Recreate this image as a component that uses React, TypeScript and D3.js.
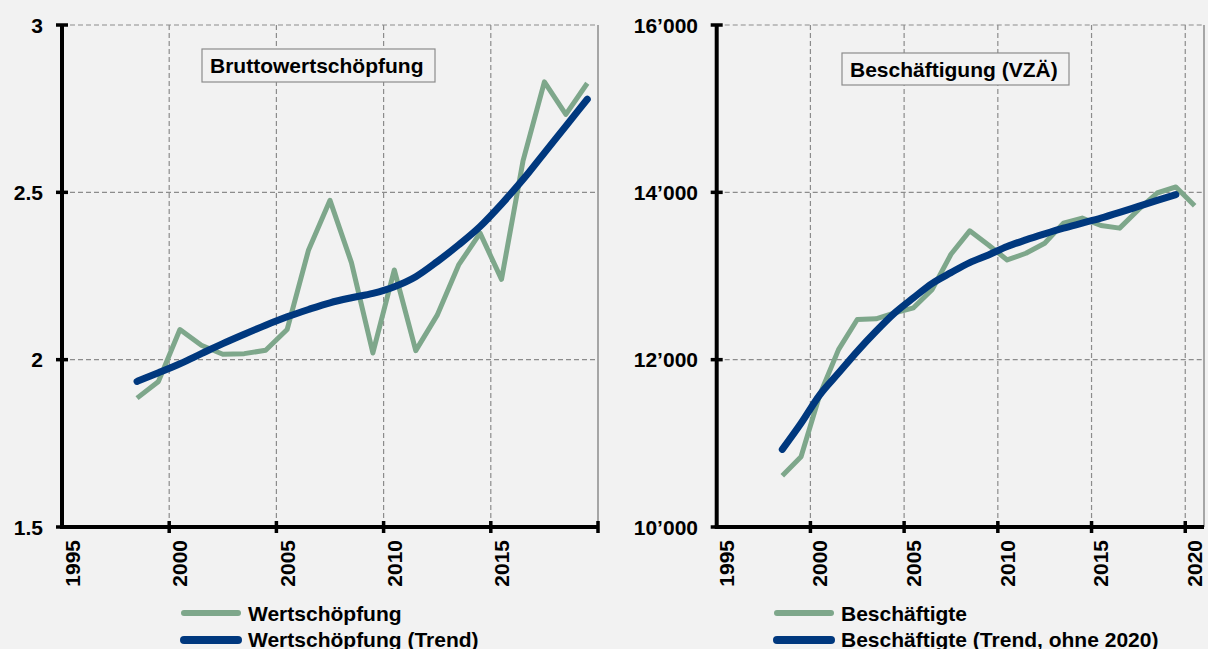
import React from "react";
import * as d3 from "d3";

const years = d3.range(1998, 2021);
const wsYears = years.slice(0, 22);
const wertschoepfung = [1.885, 1.935, 2.09, 2.043, 2.016, 2.018, 2.028, 2.09, 2.328, 2.476, 2.29, 2.02, 2.268, 2.027, 2.133, 2.283, 2.378, 2.24, 2.593, 2.83, 2.733, 2.826];
const wertschoepfungTrend = [1.935, 1.961, 1.988, 2.018, 2.048, 2.076, 2.103, 2.128, 2.15, 2.17, 2.185, 2.198, 2.218, 2.248, 2.293, 2.343, 2.398, 2.465, 2.538, 2.618, 2.698, 2.778];
const beschaeftigte = [10612, 10840, 11580, 12120, 12480, 12488, 12560, 12620, 12840, 13260, 13540, 13370, 13192, 13272, 13392, 13632, 13692, 13604, 13572, 13792, 13992, 14064, 13840];
const beschaeftigteTrend = [10928, 11240, 11580, 11840, 12100, 12340, 12560, 12740, 12912, 13040, 13160, 13252, 13352, 13432, 13504, 13572, 13632, 13692, 13760, 13832, 13904, 13972];

const leftYTicks = [1.5, 2, 2.5, 3];
const leftYLabels = ["1.5", "2", "2.5", "3"];
const rightYTicks = [10000, 12000, 14000, 16000];
const rightYLabels = ["10\u2019000", "12\u2019000", "14\u2019000", "16\u2019000"];
const leftXTicks = [1995, 2000, 2005, 2010, 2015];
const rightXTicks = [1995, 2000, 2005, 2010, 2015, 2020];

const GREEN = "#7ea78b";
const BLUE = "#00387e";
const BG = "#f2f2f2";
const FONT = "'Liberation Sans', Arial, sans-serif";
const FS = 21;

type PanelProps = {
  x0: number; x1: number; xDomain: [number, number];
  yDomain: [number, number]; yTicks: number[]; yLabels: string[];
  xTicks: number[]; gridX: number[]; labelRight: number;
  actYears: number[]; actual: number[]; trend: number[];
  title: string; titleBox: [number, number, number, number];
  legend: [string, string]; legendX: number;
};

function Panel(p: PanelProps) {
  const x = d3.scaleLinear().domain(p.xDomain).range([p.x0, p.x1]);
  const y = d3.scaleLinear().domain(p.yDomain).range([527, 25]);
  const lineLin = d3.line<[number, number]>().x(d => x(d[0] + 0.5)).y(d => y(d[1]));
  const lineSmooth = d3.line<[number, number]>().x(d => x(d[0] + 0.5)).y(d => y(d[1])).curve(d3.curveMonotoneX);
  const actPts = p.actYears.map((yr, i) => [yr, p.actual[i]] as [number, number]);
  const trPts = p.trend.map((v, i) => [p.actYears[i], v] as [number, number]);
  const [bx, by, bw, bh] = p.titleBox;
  const xTickPos = p.gridX.concat(p.xDomain[1] <= 2020 ? [p.xDomain[1]] : []);
  return (
    <g>
      {p.gridX.map(t => (
        <line key={"gx" + t} x1={x(t)} x2={x(t)} y1={25} y2={527} stroke="#8c8c8c" strokeWidth={1.2} strokeDasharray="5,3" />
      ))}
      {p.yTicks.slice(1).map(t => (
        <line key={"gy" + t} x1={p.x0} x2={p.x1} y1={y(t)} y2={y(t)} stroke="#8c8c8c" strokeWidth={1.2} strokeDasharray="5,3" />
      ))}
      <line x1={p.x1} x2={p.x1} y1={25} y2={527} stroke="#8c8c8c" strokeWidth={1.5} />
      <rect x={bx} y={by} width={bw} height={bh} fill={BG} stroke="#8c8c8c" strokeWidth={1.2} />
      <text x={bx + 8} y={by + bh / 2} dy="0.36em" fontSize={FS} fontWeight="bold" fontFamily={FONT}>{p.title}</text>
      <path d={lineLin(actPts) || ""} fill="none" stroke={GREEN} strokeWidth={5} strokeLinejoin="round" />
      <path d={lineSmooth(trPts) || ""} fill="none" stroke={BLUE} strokeWidth={7} strokeLinecap="round" strokeLinejoin="round" />
      <line x1={p.x0} x2={p.x0} y1={25} y2={527} stroke="#000" strokeWidth={4} />
      <line x1={p.x0 - 2} x2={p.x1} y1={527} y2={527} stroke="#000" strokeWidth={4} />
      {p.yTicks.map((t, i) => (
        <g key={"yt" + t}>
          <line x1={p.x0 - 6} x2={p.x0 + 6} y1={y(t)} y2={y(t)} stroke="#000" strokeWidth={3.5} />
          <text x={p.labelRight} y={y(t)} dy="0.36em" textAnchor="end" fontSize={FS} fontWeight="bold" fontFamily={FONT}>{p.yLabels[i]}</text>
        </g>
      ))}
      {xTickPos.map(t => (
        <line key={"xt" + t} x1={x(t)} x2={x(t)} y1={521} y2={533} stroke="#000" strokeWidth={3.5} />
      ))}
      {p.xTicks.map(t => (
        <text key={"xl" + t} transform={`translate(${x(t + 0.5)},540) rotate(-90)`} dy="0.36em" textAnchor="end" fontSize={FS} fontWeight="bold" fontFamily={FONT}>{t}</text>
      ))}
      <line x1={p.legendX} x2={p.legendX + 54} y1={613} y2={613} stroke={GREEN} strokeWidth={6} strokeLinecap="round" />
      <text x={p.legendX + 64} y={613} dy="0.36em" fontSize={FS} fontWeight="bold" fontFamily={FONT}>{p.legend[0]}</text>
      <line x1={p.legendX} x2={p.legendX + 54} y1={640} y2={640} stroke={BLUE} strokeWidth={8} strokeLinecap="round" />
      <text x={p.legendX + 64} y={639} dy="0.36em" fontSize={FS} fontWeight="bold" fontFamily={FONT}>{p.legend[1]}</text>
    </g>
  );
}

export default function App() {
  return (
    <svg width={1208} height={649} style={{ position: "absolute", left: 0, top: 0, display: "block" }}>
      <rect x={0} y={0} width={1208} height={649} fill={BG} />
      <Panel
        x0={62} x1={598} xDomain={[1995, 2020]}
        yDomain={[1.5, 3]} yTicks={leftYTicks} yLabels={leftYLabels}
        xTicks={leftXTicks} gridX={[2000, 2005, 2010, 2015]} labelRight={43}
        actYears={wsYears} actual={wertschoepfung} trend={wertschoepfungTrend}
        title="Bruttowertschöpfung" titleBox={[202, 49, 233, 33]}
        legend={["Wertschöpfung", "Wertschöpfung (Trend)"]} legendX={184}
      />
      <Panel
        x0={716.7} x1={1204} xDomain={[1995, 2021]}
        yDomain={[10000, 16000]} yTicks={rightYTicks} yLabels={rightYLabels}
        xTicks={rightXTicks} gridX={[2000, 2005, 2010, 2015, 2020]} labelRight={698}
        actYears={years} actual={beschaeftigte} trend={beschaeftigteTrend}
        title="Beschäftigung (VZÄ)" titleBox={[842, 53, 227, 32]}
        legend={["Beschäftigte", "Beschäftigte (Trend, ohne 2020)"]} legendX={777}
      />
    </svg>
  );
}
